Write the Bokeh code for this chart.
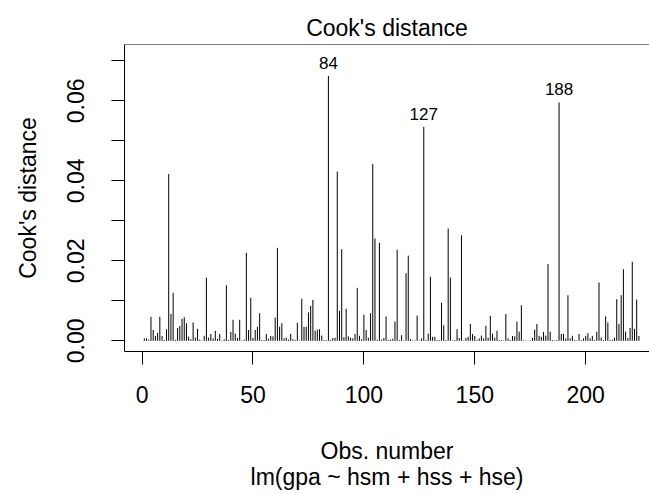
import math
from bokeh.plotting import figure
from bokeh.models import Range1d, FixedTicker, LinearAxis, ColumnDataSource, Span, NumeralTickFormatter
from bokeh.core.properties import value
from bokeh.embed import file_html
from bokeh.resources import INLINE

FONT = "Liberation Sans"

cook = [
    0.0006, 0.0006, 0.0003, 0.0060, 0.0027, 0.0012, 0.0020, 0.0060, 0.0012, 0.0002,
    0.0029, 0.0417, 0.0067, 0.0120, 0.00025, 0.0032, 0.0037, 0.0055, 0.0059, 0.0044,
    0.0010, 0.0004, 0.0046, 0.0008, 0.0030, 0.0003, 0.0001, 0.00125, 0.0158, 0.0008,
    0.0017, 0.0006, 0.0025, 0.0005, 0.0017, 0.0001, 0.0004, 0.0139, 0.0002, 0.0022,
    0.00525, 0.0018, 0.0007, 0.00525, 0.0001, 0.0003, 0.0220, 0.0027, 0.0107, 0.0007,
    0.0027, 0.0035, 0.0069, 0.0002, 0.0002, 0.0017, 0.0005, 0.0012, 0.0011, 0.0058,
    0.02325, 0.0035, 0.0044, 0.0006, 0.0008, 0.0003, 0.00175, 0.0004, 0.00025, 0.0045,
    0.0001, 0.0105, 0.0035, 0.0035, 0.0071, 0.0087, 0.01025, 0.0025, 0.0028, 0.0029,
    0.0013, 0.0002, 0.0002, 0.06625, 0.0002, 0.0007, 0.00075, 0.0423, 0.0075, 0.0229,
    0.0009, 0.0080, 0.0011, 0.00075, 0.0006, 0.0017, 0.01325, 0.00125, 0.0004, 0.0065,
    0.0027, 0.00075, 0.0069, 0.0442, 0.0256, 0.0003, 0.0245, 0.0003, 0.0007, 0.0061,
    0.0002, 0.0003, 0.0005, 0.0048, 0.02275, 0.0002, 0.0014, 0.0001, 0.0169, 0.0213,
    0.0004, 0.0001, 0.0001, 0.0063, 0.0001, 0.0006, 0.0535, 0.0002, 0.0018, 0.0160,
    0.0010, 0.0010, 0.0002, 0.0002, 0.0095, 0.0039, 0.0002, 0.0281, 0.0158, 0.0001,
    0.0002, 0.0029, 0.0007, 0.0264, 0.0001, 0.0007, 0.0010, 0.0042, 0.0017, 0.0012,
    0.00025, 0.0006, 0.0013, 0.0006, 0.00375, 0.0008, 0.00625, 0.0018, 0.0008, 0.0025,
    0.0002, 0.0002, 0.0001, 0.0067, 0.0006, 0.0002, 0.0012, 0.0011, 0.0048, 0.0023,
    0.0089, 0.0001, 0.0001, 0.0001, 0.0001, 0.0007, 0.0028, 0.0042, 0.00125, 0.0010,
    0.0022, 0.0013, 0.0192, 0.00225, 0.0002, 0.0001, 0.0002, 0.0596, 0.0017, 0.00175,
    0.0006, 0.0114, 0.0006, 0.00125, 0.0002, 0.0001, 0.0017, 0.0002, 0.0006, 0.00125,
    0.0019, 0.0006, 0.00125, 0.0002, 0.00225, 0.0146, 0.0008, 0.0002, 0.0061, 0.0046,
    0.0002, 0.0003, 0.0008, 0.0104, 0.0042, 0.0114, 0.0179, 0.0023, 0.0007, 0.0032,
    0.01975, 0.0030, 0.0103, 0.0012,
]
obs = list(range(1, len(cook) + 1))

x_ticks = [0, 50, 100, 150, 200]
y_ticks = [0.00, 0.02, 0.04, 0.06]
y_minor_ticks = [0.01, 0.03, 0.05, 0.07]

title_text = "Cook's distance"
x_label = "Obs. number"
y_label = "Cook's distance"
sub_caption = "lm(gpa ~ hsm + hss + hse)"

# three largest distances get labelled
top3 = sorted(range(len(cook)), key=lambda i: cook[i], reverse=True)[:3]
lab_x = [obs[i] for i in top3]
lab_y = [cook[i] for i in top3]
lab_t = [str(obs[i]) for i in top3]

p = figure(width=649, height=494, output_backend="svg", toolbar_location=None,
           x_range=Range1d(-7.935, 228.77), y_range=Range1d(-0.002675, 0.0741),
           min_border_left=124, min_border_right=0, min_border_top=44, min_border_bottom=143,
           title=title_text)

p.grid.visible = False
p.outline_line_color = None
p.background_fill_color = "white"
p.border_fill_color = "white"

p.title.text_font = FONT
p.title.text_font_size = "23px"
p.title.text_font_style = "normal"
p.title.text_color = "black"
p.title.align = "center"
p.title.offset = 3.5
p.title.standoff = 8

src = ColumnDataSource(dict(obs=obs, cook=cook))
p.segment(x0="obs", y0=0, x1="obs", y1="cook", source=src, line_color="black", line_width=1)

lsrc = ColumnDataSource(dict(x=lab_x, y=lab_y, t=lab_t))
p.text(x="x", y="y", text="t", source=lsrc, text_align="center", text_baseline="bottom",
       y_offset=-7, text_font=value(FONT), text_font_size="17px", text_color="black")

p.add_layout(Span(location=0.0741, dimension="width", line_color="black", line_width=1))

def style_axis(ax):
    ax.axis_line_color = "black"
    ax.axis_line_width = 1
    ax.major_tick_line_color = "black"
    ax.minor_tick_line_color = "black"
    ax.major_tick_out = 13
    ax.major_tick_in = 0
    ax.minor_tick_out = 13
    ax.minor_tick_in = 0
    ax.major_label_text_font = FONT
    ax.major_label_text_font_size = "23px"
    ax.major_label_text_color = "black"
    ax.axis_label_text_font = FONT
    ax.axis_label_text_font_size = "23px"
    ax.axis_label_text_font_style = "normal"
    ax.axis_label_text_color = "black"

xa = p.xaxis[0]
style_axis(xa)
xa.ticker = FixedTicker(ticks=x_ticks)
xa.minor_tick_out = 0
xa.major_label_standoff = 21
xa.axis_label = x_label
xa.axis_label_standoff = 32

ya = p.yaxis[0]
style_axis(ya)
ya.ticker = FixedTicker(ticks=y_ticks, minor_ticks=y_minor_ticks)
ya.formatter = NumeralTickFormatter(format="0.00")
ya.major_label_orientation = "parallel"
ya.major_label_standoff = 27
ya.axis_label = y_label
ya.axis_label_standoff = 24

sub = LinearAxis(ticker=FixedTicker(ticks=[]), axis_line_color=None,
                 major_tick_line_color=None, minor_tick_line_color=None,
                 major_tick_out=0, minor_tick_out=0, major_label_standoff=0,
                 axis_label=sub_caption, axis_label_standoff=-3,
                 axis_label_text_font=FONT, axis_label_text_font_size="23px",
                 axis_label_text_font_style="normal", axis_label_text_color="black")
p.add_layout(sub, "below")

open("out.html", "w").write(file_html(p, INLINE))
